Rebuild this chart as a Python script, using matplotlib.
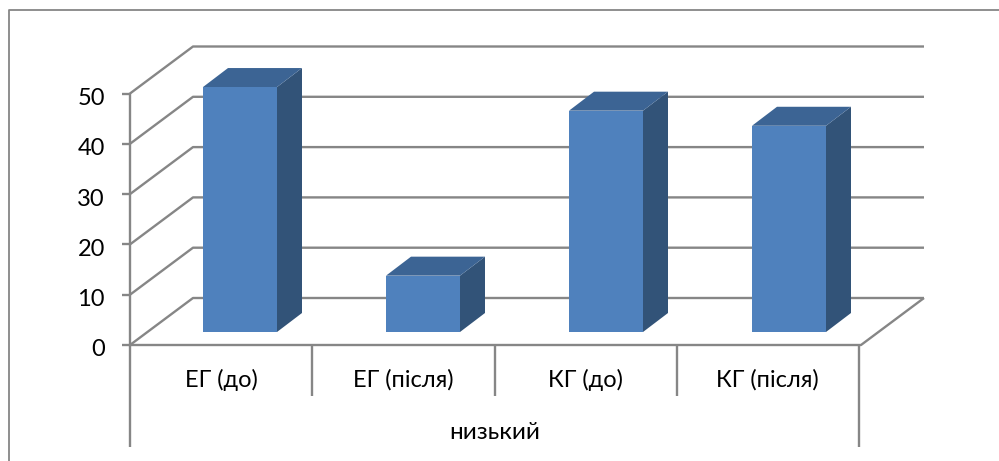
import matplotlib
matplotlib.use("Agg")
import matplotlib.pyplot as plt
from matplotlib.patches import Polygon
from matplotlib.transforms import ScaledTranslation

categories = ["ЕГ (до)", "ЕГ (після)", "КГ (до)", "КГ (після)"]
group_label = "низький"
values = [48.7, 11.2, 44.0, 41.0]
y_ticks = [0, 10, 20, 30, 40, 50]

LINE = "#868686"
FRONT = "#4F81BD"
SIDE = "#325378"
TOP = "#3C6494"

plt.rcParams["font.family"] = ["Lato", "Noto Sans"]

W, H = 999, 461
fig = plt.figure(figsize=(W / 100, H / 100), dpi=100)

# plot box in pixels: x 130-859, value 0 at y=345, value 50 at y=93.5
x0, x1, y0, y50 = 130, 859, 345, 93.5
ax = fig.add_axes([x0 / W, (H - y0) / H, (x1 - x0) / W, (y0 - y50) / H])
ax.set_xlim(0, len(categories))
ax.set_ylim(0, 50)
ax.patch.set_visible(False)

px_x = len(categories) / (x1 - x0)
px_y = 50 / (y0 - y50)

# floor and back wall offset
wall_dx = 63 * px_x
wall_dy = 47 * px_y

# bar geometry
bar_w = 74 * px_x
bar_dx = 25 * px_x
bar_dy = 19 * px_y
bar_base = 13 * px_y
bar_skip = 73 * px_x
bar_step = 183 * px_x


def gray_line(xs, ys):
    ax.plot(xs, ys, color=LINE, lw=1.7, clip_on=False, solid_capstyle="butt", zorder=1)


#? Gridlines: slanted on the side wall, then along the back wall
right_end = len(categories) + 2 * px_x + wall_dx
for t in y_ticks:
    gray_line([0, wall_dx, right_end], [t, t + wall_dy, t + wall_dy])
gray_line([0, len(categories) + 2 * px_x, right_end], [0, 0, wall_dy])

#? Bars with top and side faces
for i, v in enumerate(values):
    left = i * bar_step + bar_skip
    right = left + bar_w
    top = bar_base + v
    ax.bar(left, v, bottom=bar_base, width=bar_w, align="edge", color=FRONT, zorder=4, clip_on=False)
    ax.add_patch(Polygon(
        [(right, bar_base), (right + bar_dx, bar_base + bar_dy), (right + bar_dx, top + bar_dy), (right, top)],
        facecolor=SIDE, edgecolor="none", zorder=3, clip_on=False))
    ax.add_patch(Polygon(
        [(left, top), (right, top), (right + bar_dx, top + bar_dy), (left + bar_dx, top + bar_dy)],
        facecolor=TOP, edgecolor="none", zorder=3, clip_on=False))

#? Axis: ticks and two-level category dividers
for side in ["top", "right", "bottom"]:
    ax.spines[side].set_visible(False)
ax.spines["left"].set_color(LINE)
ax.spines["left"].set_linewidth(1.7)
ax.set_yticks(y_ticks)
ax.tick_params(axis="y", length=6, width=1.7, color=LINE, labelsize=17, pad=12)
# value labels sit a little below their ticks
shift_down = ScaledTranslation(0, -3 / 100, fig.dpi_scale_trans)
for label in ax.get_yticklabels():
    label.set_transform(label.get_transform() + shift_down)
ax.set_xticks([i + 0.5 for i in range(len(categories))])
ax.set_xticklabels(categories, fontsize=17, va="baseline")
ax.tick_params(axis="x", length=0, pad=30)

short_drop = -51 * px_y
long_drop = -102 * px_y
for i in range(len(categories) + 1):
    low = long_drop if i in (0, len(categories)) else short_drop
    gray_line([i, i], [0, low])

ax.text(len(categories) / 2, -94 * px_y, group_label, ha="center", va="baseline", fontsize=17.5)

#? Outer chart frame, open on the right and bottom
fig.add_artist(plt.Line2D([8.5 / W, 8.5 / W, 1], [0, (H - 10) / H, (H - 10) / H],
                          color=LINE, lw=1.3))

fig.savefig("out.png", dpi=100)
